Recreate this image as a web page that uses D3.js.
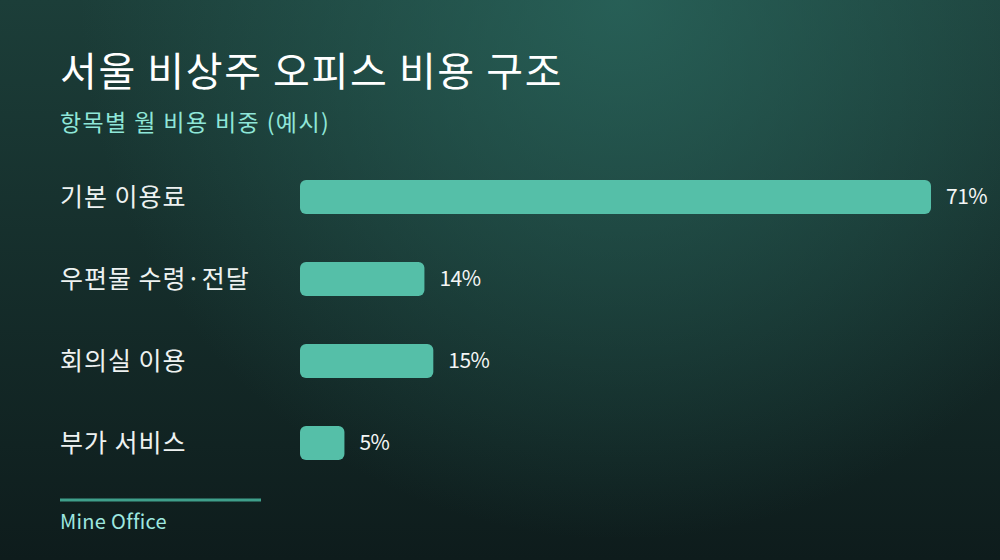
<!DOCTYPE html>
<html>
<head>
<meta charset="utf-8">
<style>
    html, body { margin: 0; padding: 0; background: #10201f; }
    svg { display: block; }
    text { font-family: "Noto Sans CJK KR", "Noto Sans", sans-serif; }
</style>
</head>
<body>
<script src="https://d3js.org/d3.v7.min.js"></script>
<script>
    const W = 1000, H = 560;

    const categories = ["기본 이용료", "우편물 수령·전달", "회의실 이용", "부가 서비스"];
    const shares = [71, 14, 15, 5];
    const title = "서울 비상주 오피스 비용 구조";
    const subtitle = "항목별 월 비용 비중 (예시)";
    const source = "Mine Office";

    const svg = d3.select("body").append("svg").attr("width", W).attr("height", H);
    const defs = svg.append("defs");

    const lin = defs.append("linearGradient").attr("id", "bg").attr("x1", 0).attr("y1", 0).attr("x2", 0).attr("y2", 1);
    lin.append("stop").attr("offset", "0%").attr("stop-color", "#1c3e39");
    lin.append("stop").attr("offset", "100%").attr("stop-color", "#0e1c1c");

    const rad = defs.append("radialGradient").attr("id", "glow")
        .attr("gradientUnits", "userSpaceOnUse")
        .attr("cx", 620).attr("cy", 0).attr("r", 540);
    rad.append("stop").attr("offset", "0%").attr("stop-color", "#2b6a60").attr("stop-opacity", 0.75);
    rad.append("stop").attr("offset", "100%").attr("stop-color", "#2b6a60").attr("stop-opacity", 0);

    svg.append("rect").attr("width", W).attr("height", H).attr("fill", "url(#bg)");
    svg.append("rect").attr("width", W).attr("height", H).attr("fill", "url(#glow)");

    svg.append("text").attr("x", 60).attr("y", 86)
        .attr("font-size", 40).attr("letter-spacing", 1.6).attr("fill", "#ffffff").text(title);
    svg.append("text").attr("x", 60).attr("y", 131)
        .attr("font-size", 23).attr("letter-spacing", 1.4).attr("fill", "#8fe6d8").text(subtitle);

    // bars: step 82px, bar height 34px
    const x = d3.scaleLinear().domain([0, d3.max(shares)]).range([0, 631]);
    const y = d3.scaleBand().domain(categories).range([180, 460]).paddingInner(48 / 82).paddingOuter(0);

    const data = categories.map((c, i) => ({ c, v: shares[i] }));
    const rows = svg.append("g").selectAll("g").data(data).join("g");

    rows.append("rect")
        .attr("x", 300).attr("y", d => y(d.c))
        .attr("width", d => x(d.v)).attr("height", y.bandwidth())
        .attr("rx", 6).attr("fill", "#55bfa8");

    rows.append("text")
        .attr("x", 60).attr("y", d => y(d.c) + y.bandwidth() / 2)
        .attr("dy", "0.35em").attr("font-size", 25).attr("letter-spacing", 1.0).attr("fill", "#eef2f1")
        .text(d => d.c);

    rows.append("text")
        .attr("x", d => 300 + x(d.v) + 15).attr("y", d => y(d.c) + y.bandwidth() / 2)
        .attr("dy", "0.35em").attr("font-size", 21).attr("letter-spacing", -0.5).attr("fill", "#f4f6f5")
        .text(d => d.v + "%");

    svg.append("line").attr("x1", 60).attr("x2", 261).attr("y1", 500).attr("y2", 500)
        .attr("stroke", "#3f9f8b").attr("stroke-width", 3);
    svg.append("text").attr("x", 60).attr("y", 529)
        .attr("font-size", 20).attr("letter-spacing", 0.3).attr("fill", "#9ee8e0").text(source);
</script>
</body>
</html>
